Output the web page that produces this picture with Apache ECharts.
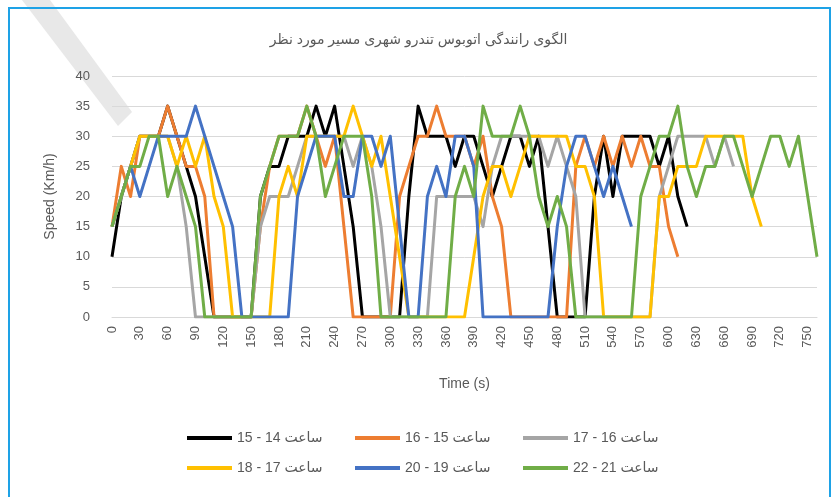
<!DOCTYPE html>
<html>
<head>
<meta charset="utf-8">
<script src="https://cdn.jsdelivr.net/npm/echarts@6/dist/echarts.min.js"></script>
<style>
  html, body { margin: 0; padding: 0; background: #fff; }
  #echarts { width: 837px; height: 497px; }
</style>
</head>
<body>
<div id="echarts"></div>
<script>
// time axis, every 10 s
var times = [];
for (var t = 0; t <= 760; t += 10) times.push(String(t));

var names = ['ساعت 14 - 15', 'ساعت 15 - 16', 'ساعت 16 - 17', 'ساعت 17 - 18', 'ساعت 19 - 20', 'ساعت 21 - 22'];
var colors = ['#000000', '#ED7D31', '#A5A5A5', '#FFC000', '#4472C4', '#70AD47'];

var h14 = [10,20,25,30,30,30,35,30,25,20,10,0,0,0,0,0,20,25,25,30,30,30,35,30,35,25,15,0,0,0,0,0,20,35,30,30,30,25,30,30,25,20,25,30,30,25,30,15,0,0,0,0,20,30,20,30,30,30,30,25,30,20,15];
var h15 = [15,25,20,30,30,30,35,30,25,25,20,0,0,0,0,0,15,25,30,30,30,35,30,25,30,15,0,0,0,0,0,20,25,30,30,35,30,30,30,25,30,20,15,0,0,0,0,0,0,0,25,30,25,30,25,30,25,30,25,25,15,10];
var h16 = [15,20,25,30,30,30,30,25,15,0,0,0,0,0,0,0,15,20,20,20,25,30,30,30,30,30,25,30,25,15,0,0,0,0,0,20,20,20,20,20,15,25,30,30,30,30,30,25,30,25,20,0,0,0,0,0,0,0,0,20,25,30,30,30,30,25,30,25];
var h17 = [15,20,25,30,30,30,30,25,30,25,30,20,15,0,0,0,0,0,20,25,20,30,30,30,30,30,35,30,25,30,20,10,0,0,0,0,0,0,0,10,20,25,25,20,25,30,30,30,30,30,25,25,20,0,0,0,0,0,0,20,20,25,25,25,30,30,30,30,30,20,15];
var h19 = [15,20,25,20,25,30,30,30,30,35,30,25,20,15,0,0,0,0,0,0,20,25,30,30,30,20,20,30,30,25,30,15,0,0,20,25,20,30,30,25,0,0,0,0,0,0,0,0,15,25,30,30,25,20,25,20,15];
var h21 = [15,20,25,25,30,30,20,25,20,15,0,0,0,0,0,0,20,25,30,30,30,35,30,20,25,30,30,30,20,0,0,0,0,0,0,0,0,20,25,20,35,30,30,30,35,30,20,15,20,15,0,0,0,0,0,0,0,20,25,30,30,35,25,20,25,25,30,30,25,20,25,30,30,25,30,20,10];

var speeds = [h14, h15, h16, h17, h19, h21];
var yTicks = [0, 40, 5];

var font = "'Liberation Sans', 'DejaVu Sans', sans-serif";
var grey = '#595959';

var myChart = echarts.init(document.getElementById('echarts'));

var series = [];
for (var i = 0; i < speeds.length; i++) {
  series.push({
    name: names[i],
    type: 'line',
    data: speeds[i],
    symbol: 'none',
    smooth: false,
    lineStyle: { width: 3, color: colors[i], join: 'round' },
    itemStyle: { color: colors[i] }
  });
}

option = {
  backgroundColor: '#ffffff',
  animation: false,
  title: {
    text: 'الگوی رانندگی اتوبوس تندرو شهری مسیر مورد نظر',
    left: 'center',
    top: 28,
    textStyle: { color: grey, fontSize: 14, fontWeight: 'normal', fontFamily: font }
  },
  legend: {
    data: names,
    left: 182,
    top: 422,
    width: 510,
    icon: 'rect',
    itemWidth: 45,
    itemHeight: 4,
    itemGap: 8,
    textStyle: { color: grey, fontSize: 14, fontFamily: font, width: 110, lineHeight: 22 }
  },
  grid: { left: 112, right: 20, top: 76, bottom: 180 },
  xAxis: {
    type: 'category',
    data: times,
    boundaryGap: false,
    name: 'Time (s)',
    nameLocation: 'middle',
    nameGap: 60,
    nameTextStyle: { color: grey, fontSize: 14, fontFamily: font },
    axisLine: { show: true, lineStyle: { color: '#d9d9d9' } },
    axisTick: { show: false },
    axisLabel: { interval: 2, rotate: 90, margin: 9, color: grey, fontSize: 13, fontFamily: font },
    splitLine: { show: false }
  },
  yAxis: {
    type: 'value',
    min: yTicks[0],
    max: yTicks[1],
    interval: yTicks[2],
    name: 'Speed (Km/h)',
    nameLocation: 'middle',
    nameGap: 55,
    nameTextStyle: { color: grey, fontSize: 14, fontFamily: font },
    axisLine: { show: false },
    axisTick: { show: false },
    axisLabel: { margin: 22, color: grey, fontSize: 13, fontFamily: font },
    splitLine: { lineStyle: { color: '#d9d9d9', width: 1 } }
  },
  graphic: [
    {
      type: 'polygon',
      z: -10,
      shape: { points: [[22, 0], [50, 0], [132, 112], [118, 126]] },
      style: { fill: '#e8e8e8' },
      silent: true
    },
    {
      type: 'rect',
      z: 100,
      shape: { x: 9, y: 8, width: 821, height: 495 },
      style: { fill: 'none', stroke: '#1ea2e6', lineWidth: 2 },
      silent: true
    }
  ],
  series: series
};

myChart.setOption(option);
</script>
</body>
</html>
